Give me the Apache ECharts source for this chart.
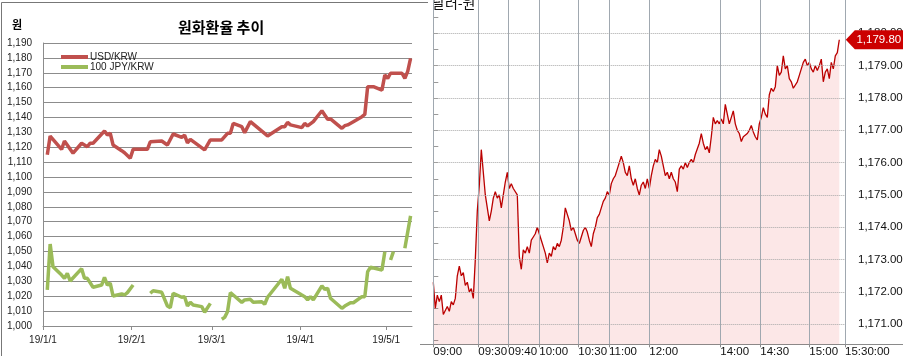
<!DOCTYPE html>
<html><head><meta charset="utf-8">
<script src="https://cdn.jsdelivr.net/npm/echarts@6/dist/echarts.min.js"></script>
<style>html,body{margin:0;padding:0;background:#fff}#c{width:903px;height:356px}</style>
</head><body><div id="c"></div>
<script>
// ---------- Left chart: 원화환율 추이 ----------
const usdDates = ['2019-01-02','2019-01-03','2019-01-07','2019-01-08','2019-01-11','2019-01-14','2019-01-16','2019-01-17','2019-01-18','2019-01-22','2019-01-23','2019-01-24','2019-01-25','2019-01-28','2019-01-29','2019-01-31','2019-02-01','2019-02-06','2019-02-07','2019-02-11','2019-02-13','2019-02-15','2019-02-18','2019-02-19','2019-02-20','2019-02-21','2019-02-26','2019-02-28','2019-03-04','2019-03-06','2019-03-07','2019-03-08','2019-03-11','2019-03-12','2019-03-14','2019-03-20','2019-03-25','2019-03-26','2019-03-27','2019-03-28','2019-04-01','2019-04-02','2019-04-03','2019-04-05','2019-04-08','2019-04-10','2019-04-11','2019-04-15','2019-04-16','2019-04-17','2019-04-19','2019-04-22','2019-04-23','2019-04-24','2019-04-26','2019-04-29','2019-04-30','2019-05-01','2019-05-02','2019-05-06','2019-05-07','2019-05-08','2019-05-09'];
const usdValues = [1115,1127.5,1118.6,1124.2,1116,1122.7,1120.4,1122.7,1122.7,1130.9,1128.2,1129.4,1121.5,1117.7,1116.3,1112.6,1118.6,1118.6,1123.7,1124.2,1121.5,1128.9,1126.7,1128.2,1123,1125.3,1118.2,1124.9,1124.9,1129.4,1129.4,1136,1133.8,1129.8,1137.2,1127.6,1133.8,1133.8,1136.7,1135,1133.2,1136,1134.3,1137.2,1144.5,1138.8,1139,1132.7,1134.5,1135,1137.2,1140.5,1142,1160.7,1160.7,1158.4,1168.5,1166.3,1169.7,1169.7,1166.3,1171,1179.7];
const jpyDates = ['2019-01-02','2019-01-03','2019-01-04','2019-01-07','2019-01-08','2019-01-09','2019-01-10','2019-01-14','2019-01-15','2019-01-16','2019-01-18','2019-01-21','2019-01-22','2019-01-23','2019-01-24','2019-01-25','2019-01-28','2019-01-29','2019-01-30','2019-02-01','2019-02-04','2019-02-07','2019-02-08','2019-02-11','2019-02-13','2019-02-14','2019-02-15','2019-02-18','2019-02-19','2019-02-20','2019-02-21','2019-02-22','2019-02-25','2019-02-26','2019-02-28','2019-03-01','2019-03-04','2019-03-05','2019-03-06','2019-03-07','2019-03-08','2019-03-11','2019-03-12','2019-03-14','2019-03-15','2019-03-18','2019-03-19','2019-03-20','2019-03-25','2019-03-26','2019-03-27','2019-03-28','2019-04-01','2019-04-02','2019-04-03','2019-04-04','2019-04-05','2019-04-08','2019-04-09','2019-04-10','2019-04-11','2019-04-15','2019-04-16','2019-04-18','2019-04-19','2019-04-22','2019-04-23','2019-04-24','2019-04-25','2019-04-29','2019-04-30','2019-05-01','2019-05-02','2019-05-03','2019-05-06','2019-05-07','2019-05-08','2019-05-09'];
const jpyValues = [1024.2,1055,1039.8,1034.2,1032,1035.4,1030.2,1038.5,1032,1032,1026,1027.5,1032.7,1027.5,1028.7,1020.1,1021.5,1020.8,1022.4,1027.5,null,1022,1023.7,1022.6,1013.4,1012.3,1022,1019.3,1019.7,1013.4,1015.9,1014.1,1013,1009.2,1015.2,null,1004.5,1005.8,1009.6,1022.4,1020.8,1015.9,1017.5,1017.9,1015.9,1016.3,1014.6,1019.3,1031.4,1025.3,1033.1,1025.3,1020.8,1019.7,1017.5,1019.7,1017.5,1026.9,1024.6,1025.3,1018.6,1011.9,1013.4,1015.6,1015.6,1019.7,1019.7,1036.5,1039.4,1037.6,1049.9,null,1044.3,1049.9,null,1052.2,1063,1073.9];
const leftTickDates = ['2019-01-01','2019-02-01','2019-03-01','2019-04-01','2019-05-01'];
const leftTickLabels = ['19/1/1','19/2/1','19/3/1','19/4/1','19/5/1'];
const leftAxisEnd = '2019-05-10';

// ---------- Right chart: 달러-원 intraday ----------
const intradayValues = [1172.3,1171.5,1171.9,1171.7,1171.9,1171.3,1171.35,1171.55,1171.4,1171.7,1171.6,1171.8,1172.5,1172.8,1172.5,1172.6,1172.2,1172.3,1172.0,1172.1,1171.8,1173.0,1174.5,1175.3,1176.4,1175.7,1175.0,1174.6,1174.2,1174.5,1174.9,1175.1,1174.9,1175.0,1174.6,1175.0,1175.4,1175.7,1175.2,1175.35,1175.2,1175.25,1175.0,1173.1,1172.7,1173.3,1173.2,1173.4,1173.2,1173.6,1173.7,1173.8,1174.0,1173.95,1173.6,1173.4,1173.2,1172.9,1173.2,1173.1,1173.4,1173.3,1173.5,1173.4,1173.6,1174.0,1174.6,1174.4,1174.2,1173.9,1174.0,1173.8,1173.6,1173.5,1173.7,1173.9,1174.0,1173.85,1173.6,1173.4,1173.8,1174.0,1174.3,1174.4,1174.6,1174.8,1174.9,1175.1,1175.0,1175.35,1175.5,1175.6,1175.8,1176.0,1176.2,1176.0,1175.7,1175.6,1175.9,1175.5,1175.3,1175.5,1175.2,1175.0,1175.3,1175.4,1175.2,1175.5,1175.2,1175.6,1175.9,1176.1,1176.0,1176.4,1176.2,1175.9,1175.6,1175.7,1175.5,1175.7,1175.5,1175.4,1175.1,1175.8,1175.9,1175.8,1176.0,1175.85,1176.0,1176.1,1176.0,1176.25,1176.3,1176.6,1176.9,1176.6,1176.4,1176.5,1176.3,1176.8,1177.4,1177.2,1177.3,1177.2,1177.35,1177.2,1177.8,1177.5,1177.2,1177.4,1177.6,1177.2,1177.0,1176.9,1176.65,1176.8,1176.75,1176.9,1177.0,1177.15,1176.95,1176.8,1176.7,1177.2,1177.4,1177.7,1177.5,1177.4,1178.1,1178.3,1178.2,1178.35,1179.0,1178.7,1178.8,1179.3,1178.9,1179.0,1178.6,1178.5,1178.3,1178.35,1178.5,1178.7,1178.9,1179.1,1179.2,1179.0,1179.1,1178.9,1178.8,1179.0,1178.85,1179.0,1179.2,1178.5,1178.8,1178.9,1178.6,1179.1,1178.9,1179.3,1179.4,1179.8];
const timeLabels = ['09:00','09:30','09:40','10:00','10:30','11:00','12:00','14:00','14:30','15:00','15:30:00'];
const timeTickPos = [0,22.5,37.5,53,72.5,87.85,108,143.5,163.5,188,205.85];
const priceLabels = [1171,1172,1173,1174,1175,1176,1177,1178,1179,1180];
const priceMinorTicks = [1170.5,1171,1171.5,1172,1172.5,1173,1173.5,1174,1174.5,1175,1175.5,1176,1176.5,1177,1177.5,1178,1178.5,1179,1179.5,1180,1180.5];
const priceMin = 1170.38, priceMax = 1181.03;

const dayIdx = s => { const p = s.split('-').map(Number); return (Date.UTC(p[0], p[1]-1, p[2]) - Date.UTC(2019,0,1)) / 86400000; };
const usdData = usdDates.map((d,i) => [dayIdx(d) + 0.5, usdValues[i]]);
const jpyData = jpyDates.map((d,i) => [dayIdx(d) + 0.5, jpyValues[i]]);
const leftTickDays = leftTickDates.map(dayIdx);
const intradayData = intradayValues.map((v,i) => [i, v]);
const lastIdx = intradayValues.length - 1, lastVal = intradayValues[lastIdx];
const fmt2 = v => v.toLocaleString('en-US', {minimumFractionDigits: 2, maximumFractionDigits: 2});

const NUM = "'Liberation Sans', Arial, sans-serif";
const KR = "'Noto Sans CJK KR', sans-serif";

const chart = echarts.init(document.getElementById('c'), null, {renderer: 'canvas'});
chart.setOption({
  animation: false,
  title: { text: '원화환율 추이', left: 173, top: 15, textStyle: { fontFamily: KR, fontSize: 15, fontWeight: 'bold', color: '#000' } },
  legend: {
    data: ['USD/KRW', '100 JPY/KRW'], orient: 'vertical', left: 56, top: 47, itemGap: 0,
    icon: 'rect', itemWidth: 27, itemHeight: 4,
    textStyle: { fontFamily: NUM, fontSize: 10, color: '#222', padding: [0,0,0,-3] }
  },
  graphic: [
    { type: 'polyline', shape: { points: [[1.5, 356], [1.5, 2.5], [428, 2.5]] }, style: { stroke: '#777', lineWidth: 1, fill: null } },
    { type: 'line', shape: { x1: 420, y1: 344.5, x2: 903, y2: 344.5 }, style: { stroke: '#8a8a8a', lineWidth: 1 }, z: 0 },
    { type: 'text', x: 17, y: 25, style: { text: '원', fontFamily: KR, fontSize: 11, fontWeight: 'bold', fill: '#000', align: 'center', verticalAlign: 'middle' } },
    { type: 'text', x: 432, y: 3, style: { text: '달러-원', fontFamily: KR, fontSize: 14, fill: '#111', align: 'left', verticalAlign: 'middle' } }
  ],
  grid: [
    { left: 43, top: 43, width: 369, height: 283, outerBoundsMode: 'none', containLabel: false },
    { left: 433.3, top: 0, width: 411.7, height: 344.3, outerBoundsMode: 'none', containLabel: false }
  ],
  xAxis: [
    { type: 'value', gridIndex: 0, min: 0, max: dayIdx(leftAxisEnd),
      axisLine: { show: true, lineStyle: { color: '#8c8c8c', width: 1 } },
      axisTick: { show: true, customValues: leftTickDays, length: 4, lineStyle: { color: '#8c8c8c' } },
      axisLabel: { customValues: leftTickDays, margin: 9, fontFamily: NUM, fontSize: 10, color: '#222',
        formatter: v => leftTickLabels[leftTickDays.indexOf(v)] },
      splitLine: { show: false } },
    { type: 'value', gridIndex: 1, min: 0, max: timeTickPos[timeTickPos.length - 1],
      axisLine: { show: true, lineStyle: { color: '#8a8a8a', width: 1 } },
      axisTick: { show: true, customValues: timeTickPos, length: 3, lineStyle: { color: '#8a8a8a' } },
      axisLabel: { customValues: timeTickPos, margin: 2, align: 'left', fontFamily: NUM, fontSize: 11.5, color: '#111',
        formatter: v => timeLabels[timeTickPos.indexOf(v)] },
      splitLine: { show: false } }
  ],
  yAxis: [
    { type: 'value', gridIndex: 0, min: 1000, max: 1190, interval: 10,
      axisLine: { show: true, lineStyle: { color: '#8c8c8c', width: 1 } },
      axisTick: { show: false },
      axisLabel: { margin: 11, fontFamily: NUM, fontSize: 10, color: '#222', formatter: v => v.toLocaleString('en-US') },
      splitLine: { show: true, lineStyle: { color: '#8c8c8c', width: 1 } } },
    { type: 'value', gridIndex: 1, position: 'right', min: priceMin, max: priceMax,
      axisLine: { show: true, lineStyle: { color: '#9a9a9a', width: 1 } },
      axisTick: { show: true, customValues: priceMinorTicks, length: 5, lineStyle: { color: '#9a9a9a' } },
      axisLabel: { customValues: priceLabels, margin: 13, fontFamily: NUM, fontSize: 11.5, color: '#111', formatter: v => fmt2(v) },
      splitLine: { show: false } }
  ],
  series: [
    { name: 'USD/KRW', type: 'line', xAxisIndex: 0, yAxisIndex: 0, data: usdData, showSymbol: false, symbol: 'none',
      lineStyle: { color: '#c0504d', width: 3.5 }, itemStyle: { color: '#c0504d' }, z: 3 },
    { name: '100 JPY/KRW', type: 'line', xAxisIndex: 0, yAxisIndex: 0, data: jpyData, showSymbol: false, symbol: 'none', connectNulls: false,
      lineStyle: { color: '#9bbb59', width: 3.5 }, itemStyle: { color: '#9bbb59' }, z: 3 },
    { name: 'grid-lines', type: 'line', xAxisIndex: 1, yAxisIndex: 1, data: [], z: 1, silent: true,
      markLine: { silent: true, symbol: ['none', 'none'], label: { show: false }, animation: false,
        data: timeTickPos.map(p => ({ xAxis: p, lineStyle: { color: '#a0a8b0', width: 1, type: 'solid' } }))
          .concat(priceLabels.map(v => ({ yAxis: v, lineStyle: { color: '#a8a8a8', width: 1, type: 'dotted' } }))) } },
    { name: '달러-원', type: 'line', xAxisIndex: 1, yAxisIndex: 1, data: intradayData, showSymbol: false, symbol: 'none', z: 2,
      lineStyle: { color: '#bb0000', width: 1.3 }, itemStyle: { color: '#bb0000' },
      areaStyle: { color: 'rgba(230,60,60,0.18)', origin: 'start' },
      markPoint: { silent: true, animation: false,
        symbol: 'path://M0 9.5 L9 0 L60 0 L60 19 L9 19 Z', symbolSize: [60, 19], symbolKeepAspect: false, symbolOffset: [36.5, 0],
        itemStyle: { color: '#cc0000' },
        label: { show: true, position: 'inside', offset: [3, 0], color: '#fff', fontFamily: NUM, fontSize: 11.5, formatter: () => fmt2(lastVal) },
        data: [{ coord: [lastIdx, lastVal], value: lastVal }] } }
  ]
});
</script></body></html>
